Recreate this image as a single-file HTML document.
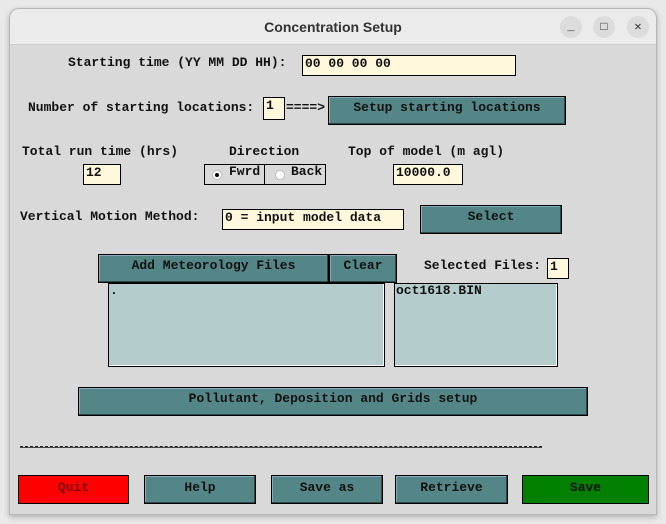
<!DOCTYPE html>
<html><head><style>
*{margin:0;padding:0;box-sizing:border-box}
body{width:666px;height:524px;background:#e9e9e9;position:relative;overflow:hidden;font-family:"Liberation Mono",monospace;font-weight:bold;font-size:13px;color:#111}
.win{position:absolute;left:9px;top:8px;width:648px;height:507px;background:#d9d9d9;border:1px solid #b8b8b8;border-radius:10px 10px 0 0;overflow:hidden;box-shadow:0 2px 6px rgba(0,0,0,.25)}
.tb{position:absolute;left:0;top:0;width:100%;height:36px;background:#ebebeb;border-bottom:1px solid #cfcfcf;font-family:"Liberation Sans",sans-serif;font-size:14px;text-align:center;line-height:36px;color:#333}
.cb{position:absolute;top:7px;width:22px;height:22px;border-radius:50%;background:#dcdcdc;font-size:12px;line-height:22px;text-align:center;color:#333;font-weight:normal}
.t{position:absolute;white-space:pre;line-height:14px}
.e{position:absolute;background:#fff8dc;border:1px solid #000;padding-left:2px;line-height:15px;white-space:pre}
.b{position:absolute;background:#548687;border:1px solid #000;box-shadow:inset -1px -1px 0 #2c4848,inset 1px 1px 0 #8ab;text-align:center;white-space:pre}
.l{position:absolute;background:#b4cccc;border:1px solid #000;box-shadow:inset -1px -1px 0 #fff;white-space:pre;padding-left:1px;line-height:14px}
</style></head><body>
<div class="win">
<div class="tb">Concentration Setup</div>
<div class="cb" style="left:550px">_</div>
<div class="cb" style="left:583px">□</div>
<div class="cb" style="left:617px">✕</div>
</div>
<div style="position:absolute;left:0;top:0;width:666px;height:524px">
<div class="t" style="left:68px;top:56px">Starting time (YY MM DD HH):</div>
<div class="e" style="left:302px;top:55px;width:214px;height:21px">00 00 00 00</div>

<div class="t" style="left:28px;top:101px">Number of starting locations:</div>
<div class="e" style="left:263px;top:97px;width:22px;height:23px">1</div>
<div class="t" style="left:286px;top:101px">====&gt;</div>
<div class="b" style="left:328px;top:96px;width:238px;height:29px;line-height:22px">Setup starting locations</div>

<div class="t" style="left:22px;top:145px">Total run time (hrs)</div>
<div class="t" style="left:229px;top:145px">Direction</div>
<div class="t" style="left:348px;top:145px">Top of model (m agl)</div>
<div class="e" style="left:83px;top:164px;width:38px;height:21px">12</div>
<div style="position:absolute;left:204px;top:164px;width:61px;height:21px;border:1px solid #000"></div>
<div style="position:absolute;left:264px;top:164px;width:62px;height:21px;border:1px solid #000"></div>
<div style="position:absolute;left:212px;top:170px;width:10px;height:10px;border-radius:50%;background:#fff;border:1px solid #bbb"></div>
<div style="position:absolute;left:215px;top:173px;width:4px;height:4px;border-radius:50%;background:#000"></div>
<div class="t" style="left:229px;top:165px">Fwrd</div>
<div style="position:absolute;left:275px;top:170px;width:10px;height:10px;border-radius:50%;background:#fff;border:1px solid #bbb"></div>
<div class="t" style="left:291px;top:165px">Back</div>
<div class="e" style="left:393px;top:164px;width:70px;height:21px">10000.0</div>

<div class="t" style="left:20px;top:210px">Vertical Motion Method:</div>
<div class="e" style="left:222px;top:209px;width:182px;height:21px">0 = input model data</div>
<div class="b" style="left:420px;top:205px;width:142px;height:29px;line-height:22px">Select</div>

<div class="b" style="left:98px;top:254px;width:231px;height:29px;line-height:22px">Add Meteorology Files</div>
<div class="b" style="left:329px;top:254px;width:68px;height:29px;line-height:22px">Clear</div>
<div class="t" style="left:424px;top:259px">Selected Files:</div>
<div class="e" style="left:547px;top:258px;width:22px;height:21px">1</div>
<div class="l" style="left:108px;top:283px;width:277px;height:84px">.</div>
<div class="l" style="left:394px;top:283px;width:164px;height:84px">oct1618.BIN</div>

<div class="b" style="left:78px;top:387px;width:510px;height:29px;line-height:22px">Pollutant, Deposition and Grids setup</div>

<div style="position:absolute;left:20px;top:446px;width:522px;border-top:1px dashed #222"></div>
<div style="position:absolute;left:20px;top:447px;width:522px;border-top:1px solid #444"></div>

<div class="b" style="left:18px;top:475px;width:111px;height:29px;line-height:24px;background:#ff0000;box-shadow:none;color:#700">Quit</div>
<div class="b" style="left:144px;top:475px;width:112px;height:29px;line-height:24px">Help</div>
<div class="b" style="left:271px;top:475px;width:112px;height:29px;line-height:24px">Save as</div>
<div class="b" style="left:395px;top:475px;width:113px;height:29px;line-height:24px">Retrieve</div>
<div class="b" style="left:522px;top:475px;width:127px;height:29px;line-height:24px;background:#007f00;box-shadow:none">Save</div>
</div>
</body></html>
